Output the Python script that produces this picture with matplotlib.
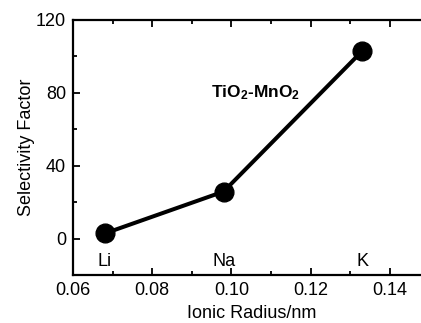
import matplotlib
matplotlib.use("Agg")
import matplotlib.pyplot as plt
from matplotlib.ticker import MultipleLocator, FormatStrFormatter

plt.rcParams['font.family'] = ['Liberation Sans', 'DejaVu Sans']
plt.rcParams['mathtext.fontset'] = 'custom'
plt.rcParams['mathtext.rm'] = 'Liberation Sans'
plt.rcParams['mathtext.bf'] = 'Liberation Sans:bold'
plt.rcParams['mathtext.it'] = 'Liberation Sans:italic'

ions = ["Li", "Na", "K"]
radius = [0.068, 0.098, 0.133]
selectivity = [2.8, 25.8, 103.0]
label_y = -12.5

fig = plt.figure(figsize=(4.21, 3.23), dpi=100)
x0, x1 = 0.06, 0.15
px_left, px_right = 73, 73 + (x1 - x0) / 0.02 * 79.25
ax = fig.add_axes([px_left / 421, 1 - 275 / 323, (px_right - px_left) / 421, (275 - 20) / 323])

ax.plot(radius, selectivity, color='black', lw=2.9, marker='o', markersize=13.5, zorder=3)
for r, name in zip(radius, ions):
    ax.text(r, label_y, name, ha='center', va='center', fontsize=13)
ax.text(0.0948, 80, r'$\mathbf{TiO_2}$-$\mathbf{MnO_2}$', fontsize=12.5,
        fontweight='bold', ha='left', va='center')

ax.set_xlim(x0, x1)
ax.set_ylim(-20, 120)
ax.xaxis.set_major_locator(MultipleLocator(0.02))
ax.xaxis.set_minor_locator(MultipleLocator(0.01))
ax.yaxis.set_major_locator(MultipleLocator(40))
ax.yaxis.set_minor_locator(MultipleLocator(20))
ax.xaxis.set_major_formatter(FormatStrFormatter('%.2f'))
ax.tick_params(which='both', direction='in', top=True, right=False, width=1.3, labelsize=13)
ax.tick_params(axis='x', which='both', pad=5)
ax.tick_params(axis='y', which='both', pad=5)
ax.tick_params(which='major', length=5)
ax.tick_params(which='minor', length=3)
for s in ax.spines.values():
    s.set_linewidth(1.6)
ax.set_xlabel('Ionic Radius/nm', fontsize=13, labelpad=4)
ax.set_ylabel('Selectivity Factor', fontsize=13, labelpad=1)

fig.savefig('out.png', dpi=100)
